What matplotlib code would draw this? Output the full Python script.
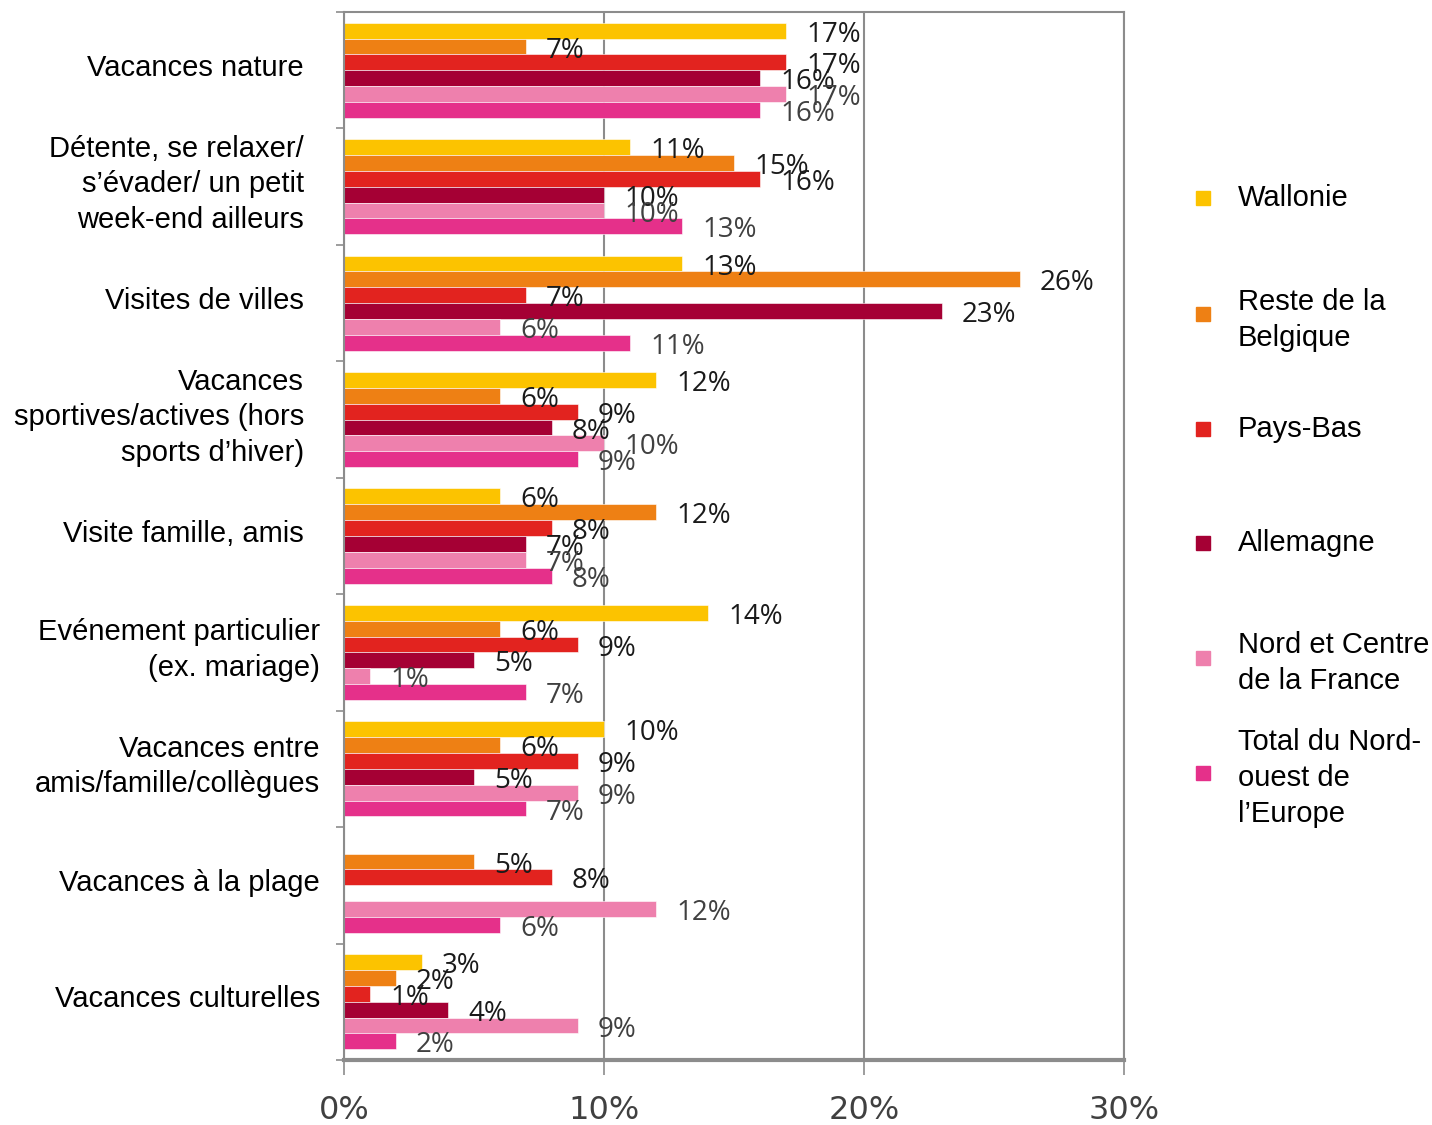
import numpy as np
import matplotlib.pyplot as plt
from matplotlib.patches import Rectangle
from matplotlib.transforms import blended_transform_factory

categories = [
    "Vacances nature",
    "Détente, se relaxer/\ns\u2019évader/ un petit\nweek-end ailleurs",
    "Visites de villes",
    "Vacances\nsportives/actives (hors\nsports d\u2019hiver)",
    "Visite famille, amis",
    "Evénement particulier\n(ex. mariage)",
    "Vacances entre\namis/famille/collègues",
    "Vacances à la plage",
    "Vacances culturelles",
]
series = ["Wallonie", "Reste de la\nBelgique", "Pays-Bas", "Allemagne",
          "Nord et Centre\nde la France", "Total du Nord-\nouest de\nl\u2019Europe"]

wallonie = [17, 11, 13, 12, 6, 14, 10, np.nan, 3]
reste_belgique = [7, 15, 26, 6, 12, 6, 6, 5, 2]
pays_bas = [17, 16, 7, 9, 8, 9, 9, 8, 1]
allemagne = [16, 10, 23, 8, 7, 5, 5, np.nan, 4]
nord_france = [17, 10, 6, 10, 7, 1, 9, 12, 9]
total_nwe = [16, 13, 11, 9, 8, 7, 7, 6, 2]

values = [wallonie, reste_belgique, pays_bas, allemagne, nord_france, total_nwe]
colors = ["#FCC300", "#EE8014", "#E2231F", "#A50034", "#EE80AD", "#E5308A"]
label_colors = ["#1a1a1a", "#1a1a1a", "#1a1a1a", "#1a1a1a", "#404040", "#404040"]

fig = plt.figure(figsize=(14.32, 11.25), dpi=100)
ax = fig.add_axes([0.2402, 0.0578, 0.5447, 0.9315])

y = np.arange(len(categories))
h = 0.136
for i, vals in enumerate(values):
    pos = y - 2.5 * h + i * h
    v = np.array(vals, dtype=float)
    ax.barh(pos, np.nan_to_num(v), height=h, color=colors[i],
            edgecolor="white", linewidth=0.4)
    for p, val in zip(pos, v):
        if np.isnan(val):
            continue
        ax.text(val + 0.77, p + 0.035, f"{int(val)}%", va="center", ha="left",
                fontsize=20, family="Open Sans", color=label_colors[i])

ax.set_xlim(0, 30)
ax.set_ylim(len(categories) - 0.5, -0.5)
ax.set_xticks([0, 10, 20, 30])
ax.set_xticklabels(["0%", "10%", "20%", "30%"])
ax.grid(axis="x", color="#8c8c8c", linewidth=1.5)
ax.set_axisbelow(True)

ax.set_yticks(np.arange(len(categories) + 1) - 0.5)
ax.set_yticklabels([])
ax.tick_params(axis="y", length=6, color="#8c8c8c", width=1.2)
ax.tick_params(axis="x", length=11, color="#8c8c8c", width=1.2, pad=14,
               labelsize=23, labelcolor="#404040")
for lab in ax.get_xticklabels():
    lab.set_family(["Liberation Sans Narrow", "DejaVu Sans Condensed", "DejaVu Sans"])

for side in ["top", "right", "left"]:
    ax.spines[side].set_color("#8c8c8c")
    ax.spines[side].set_linewidth(1.5)
ax.spines["bottom"].set_color("#8c8c8c")
ax.spines["bottom"].set_linewidth(3)

trans = blended_transform_factory(ax.transAxes, ax.transData)
for i, cat in enumerate(categories):
    xpos = -0.0513 if i < 5 else -0.0308
    ax.text(xpos, i - 0.02, cat, transform=trans, ha="right", va="center",
            multialignment="right", fontsize=21, family="Liberation Sans",
            linespacing=1.35, color="#000000")

# legend drawn by hand to keep the even spacing of the original
leg_y = [198, 314, 429, 543, 658, 773]
text_off = [0, 6, 0, 0, 5, 5]
for i, name in enumerate(series):
    yc = 1 - leg_y[i] / 1125
    fig.add_artist(Rectangle((1196 / 1432, yc - 7 / 1125), 14 / 1432, 14 / 1125,
                             transform=fig.transFigure, color=colors[i]))
    fig.text(1238 / 1432, 1 - (leg_y[i] + text_off[i]) / 1125, name,
             ha="left", va="center", fontsize=21, family="Liberation Sans",
             linespacing=1.35)

fig.savefig("out.png", dpi=100)
